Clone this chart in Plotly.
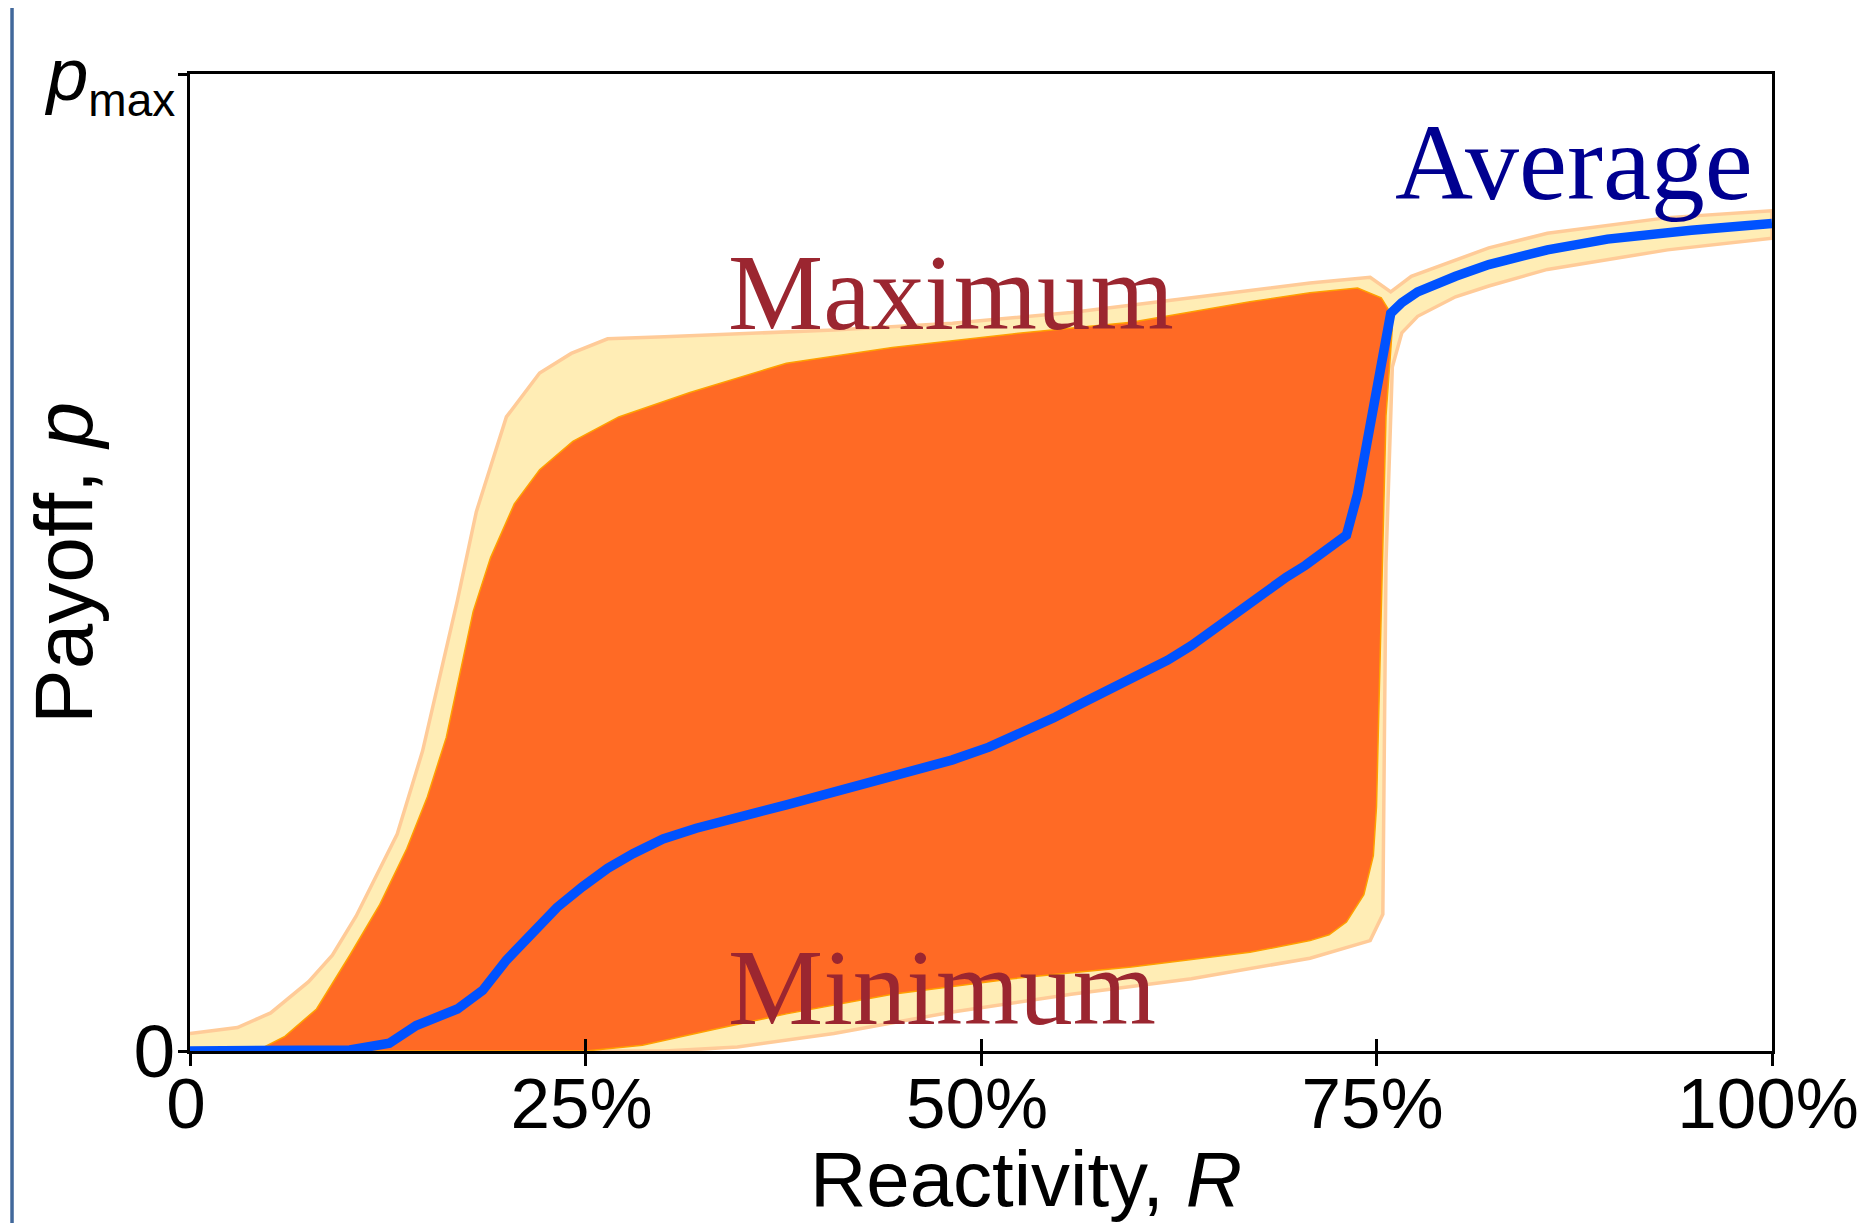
import plotly.graph_objects as go

# ---- data (x: reactivity in %, y: payoff as fraction of p_max) ----
avg_x = [0, 9, 10.1, 12.6, 14.3, 16.9, 18.5, 20, 21.8, 23.2, 24.8, 26.4, 28, 29.9, 32, 33.9,
         35.8, 37.7, 40, 42.9, 45.5, 48.2, 50.5, 52.7, 54.6, 56.5, 58.4, 60.2, 61.8, 63.3,
         64.8, 66.3, 67.8, 69.3, 70.5, 71.5, 72.3, 73.1, 73.8, 74.5, 75.2, 75.9, 76.6, 77.6,
         80, 82.1, 85.8, 89.6, 94.9, 100]
avg_y = [0, 0, 0.001, 0.008, 0.026, 0.043, 0.062, 0.093, 0.122, 0.147, 0.168, 0.187, 0.202,
         0.217, 0.228, 0.237, 0.244, 0.252, 0.262, 0.275, 0.286, 0.298, 0.311, 0.326, 0.341,
         0.357, 0.372, 0.386, 0.4, 0.415, 0.433, 0.452, 0.468, 0.485, 0.497, 0.508, 0.517,
         0.528, 0.57, 0.628, 0.69, 0.755, 0.766, 0.777, 0.793, 0.805, 0.82, 0.831, 0.84, 0.847]

max_x = [0, 4.2, 6, 8, 10.1, 12, 13.7, 15, 16.2, 17.1, 17.9, 19, 20.5, 22.1, 24.2, 27.1,
         31.6, 37.7, 44.4, 52, 59.5, 67, 70.8, 73.8, 75.3, 75.9]
max_y = [0, 0, 0.015, 0.043, 0.098, 0.15, 0.207, 0.26, 0.321, 0.39, 0.45, 0.505, 0.56,
         0.595, 0.624, 0.649, 0.674, 0.704, 0.72, 0.734, 0.746, 0.767, 0.776, 0.781, 0.771, 0.755]

min_x = [0, 25, 28.6, 33.1, 37.7, 44.4, 52, 59.5, 67, 70.8, 72, 73.1, 74.2, 74.8, 75.0,
         75.3, 75.6, 76.0]
min_y = [0, 0, 0.006, 0.022, 0.038, 0.058, 0.074, 0.086, 0.101, 0.113, 0.119, 0.132, 0.16,
         0.2, 0.25, 0.45, 0.65, 0.74]

band_up_x = [0, 3, 5.1, 7.5, 9, 10.5, 13.1, 14.7, 16.9, 18.1, 20, 22.1, 24.1, 26.4, 30,
             33.1, 40.7, 48.2, 55.7, 63.3, 70.8, 74.6, 75.9, 77.2, 82.1, 85.8, 93.4, 100]
band_up_y = [0.018, 0.024, 0.039, 0.071, 0.098, 0.138, 0.222, 0.307, 0.461, 0.552, 0.649,
             0.694, 0.714, 0.729, 0.731, 0.733, 0.738, 0.745, 0.756, 0.771, 0.786, 0.792,
             0.777, 0.793, 0.822, 0.837, 0.853, 0.86]

band_lo_x = [0, 30, 34.6, 40.7, 48.2, 55.7, 63.3, 70.8, 74.6, 75.4, 75.6, 76.0, 76.6,
             77.6, 80, 82.1, 85.8, 93.4, 100]
band_lo_y = [0, 0, 0.004, 0.018, 0.04, 0.058, 0.074, 0.095, 0.113, 0.14, 0.5, 0.7, 0.735,
             0.752, 0.772, 0.783, 0.8, 0.82, 0.832]

x_tick_vals = [0, 25, 50, 75, 100]
x_tick_text = ["0", "25%", "50%", "75%", "100%"]
y_tick_vals = [0, 1]
y_tick_text = ["0", "<i>p</i><sub><span style='font-size:46px'>max</span></sub>"]

SANS = "Liberation Sans, Arial, sans-serif"
SERIF = "Liberation Serif, Times New Roman, serif"

fig = go.Figure()

# light band around the extremes
fig.add_trace(go.Scatter(
    x=band_up_x + band_lo_x[::-1], y=band_up_y + band_lo_y[::-1],
    fill="toself", fillcolor="#ffedb5", mode="lines",
    line=dict(color="#ffcb98", width=3.5), hoverinfo="skip", showlegend=False))

# min-max range
fig.add_trace(go.Scatter(
    x=max_x + min_x[::-1], y=max_y + min_y[::-1],
    fill="toself", fillcolor="#ff6a25", mode="lines",
    line=dict(color="#ffa000", width=1.5), hoverinfo="skip", showlegend=False))

# average
fig.add_trace(go.Scatter(
    x=avg_x, y=avg_y, mode="lines",
    line=dict(color="#0052ff", width=9.5), hoverinfo="skip", showlegend=False))

axis_common = dict(showline=True, linecolor="black", linewidth=2.5, mirror=True,
                   showgrid=False, zeroline=False, ticklabeloverflow="allow",
                   automargin=False,
                   ticks="outside", tickcolor="black", tickwidth=2.5)

fig.update_layout(
    width=1851, height=1215,
    margin=dict(l=182, r=87, t=66, b=172, autoexpand=False),
    paper_bgcolor="white", plot_bgcolor="white",
    xaxis=dict(range=[0, 100], tickvals=x_tick_vals, ticktext=x_tick_text,
               tickfont=dict(family=SANS, size=71, color="black"),
               ticklen=12, ticklabelstandoff=-23, ticklabelshift=-4, **axis_common),
    yaxis=dict(range=[0, 1], tickvals=y_tick_vals, ticktext=y_tick_text,
               tickfont=dict(family=SANS, size=75, color="black"),
               ticklen=9, ticklabelstandoff=-12, **axis_common),
    xaxis2=dict(range=[0, 100], overlaying="x", anchor="y", side="bottom",
                tickvals=x_tick_vals, showticklabels=False, ticks="inside",
                tickcolor="black", tickwidth=2.5, ticklen=12, showgrid=False,
                zeroline=False, showline=False, automargin=False),
    annotations=[
        dict(text="Maximum", x=33.9, y=0.776, xref="x", yref="y", xanchor="left",
             yanchor="middle", showarrow=False,
             font=dict(family=SERIF, size=107, color="#9b2630")),
        dict(text="Minimum", x=33.9, y=0.0645, xref="x", yref="y", xanchor="left",
             yanchor="middle", showarrow=False,
             font=dict(family=SERIF, size=107, color="#9b2630")),
        dict(text="Average", x=98.9, y=0.909, xref="x", yref="y", xanchor="right",
             yanchor="middle", showarrow=False,
             font=dict(family=SERIF, size=108, color="#000090")),
        dict(text="Reactivity, <i>R</i>", x=0.5284, y=-0.131, xref="paper", yref="paper",
             xanchor="center", yanchor="middle", showarrow=False, borderpad=0,
             font=dict(family=SANS, size=78, color="black")),
        dict(text="Payoff, <i>p</i>", x=-0.080, y=0.5, xref="paper", yref="paper",
             xanchor="center", yanchor="middle", textangle=-90, showarrow=False,
             font=dict(family=SANS, size=82, color="black")),
    ],
    shapes=[
        dict(type="line", xref="paper", yref="paper", x0=-0.1125, x1=-0.1125,
             y0=-0.2, y1=1.1, line=dict(color="#41689b", width=3.5)),
    ],
)

# invisible trace for the overlay axis so its inside ticks render
fig.add_trace(go.Scatter(x=[0], y=[0], xaxis="x2", mode="markers",
                         marker=dict(opacity=0), hoverinfo="skip", showlegend=False))

fig.write_html("out.html")
